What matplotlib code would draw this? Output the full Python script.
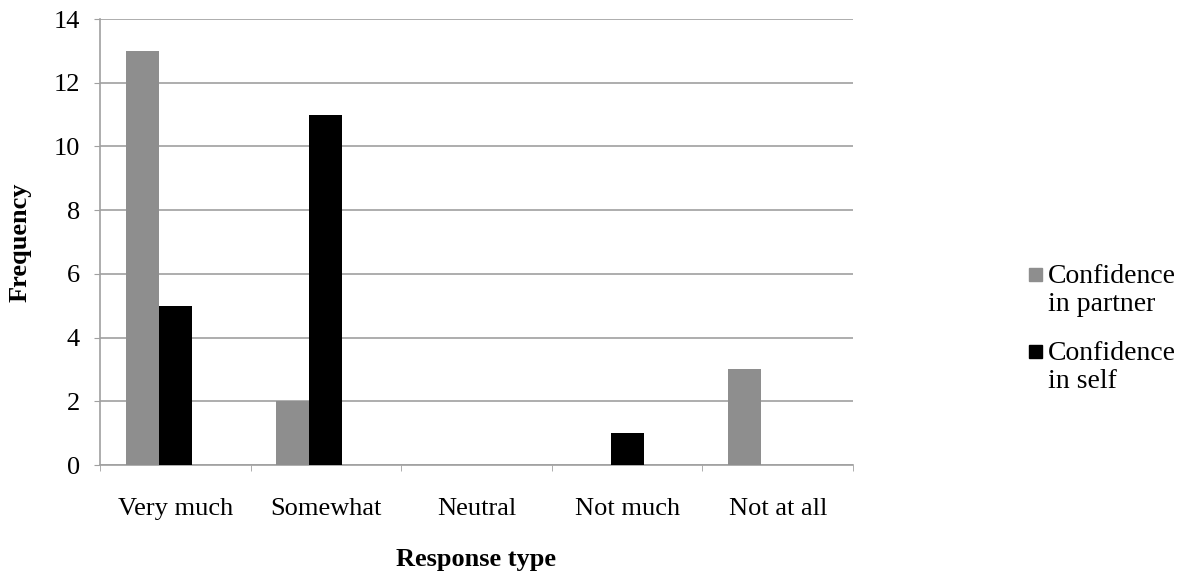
import matplotlib.pyplot as plt
import matplotlib.patches as mpatches
import numpy as np

categories = ['Very much', 'Somewhat', 'Neutral', 'Not much', 'Not at all']
partner = [13, 2, 0, 0, 3]
self_conf = [5, 11, 0, 1, 0]
series_labels = ['Confidence\nin partner', 'Confidence\nin self']
series_colors = ['#8e8e8e', '#000000']

plt.rcParams['font.family'] = ['Liberation Serif', 'DejaVu Serif']

fig = plt.figure(figsize=(11.81, 5.73), dpi=100)
ax = fig.add_axes([100 / 1181, 108 / 573, 753 / 1181, 446 / 573])

x = np.arange(len(categories))
w = 0.22
off = -0.11
ax.bar(x + off - w / 2, partner, w, color=series_colors[0], zorder=3)
ax.bar(x + off + w / 2, self_conf, w, color=series_colors[1], zorder=3)

ax.set_xlim(-0.5, len(categories) - 0.5)
ax.set_ylim(0, 14)
ax.set_yticks(range(0, 15, 2))
ax.set_xticks(x)
ax.set_xticklabels(categories, fontsize=19)
ax.set_xticks(np.arange(-0.5, len(categories)), minor=True)
ax.tick_params(axis='x', which='major', length=0, pad=24)
ax.tick_params(axis='x', which='minor', length=4.5, color='#a0a0a0', direction='out')
ax.tick_params(axis='y', length=4.5, color='#a0a0a0', labelsize=19, pad=10)

ax.grid(axis='y', color='#a0a0a0', linewidth=1.2, zorder=0)
for s in ['top', 'right']:
    ax.spines[s].set_visible(False)
for s in ['left', 'bottom']:
    ax.spines[s].set_color('#a0a0a0')
    ax.spines[s].set_linewidth(1.2)

ax.set_ylabel('Frequency', fontsize=19, fontweight='bold', labelpad=16)
ax.set_xlabel('Response type', fontsize=19, fontweight='bold', labelpad=20)

# legend drawn by hand so the square sits on the first text line
tops = [268, 345]
for lab, col, t in zip(series_labels, series_colors, tops):
    fig.add_artist(mpatches.Rectangle((1029 / 1181, 1 - (t + 13) / 573), 13 / 1181, 13 / 573,
                                      transform=fig.transFigure, color=col))
    fig.text(1048 / 1181, 1 - (t - 4) / 573, lab, fontsize=20, va='top', ha='left',
             linespacing=1.18)

fig.savefig('out.png', dpi=100)
